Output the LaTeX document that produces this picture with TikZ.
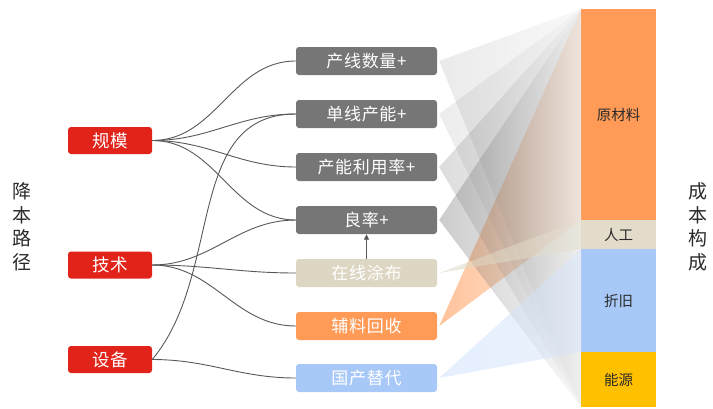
\documentclass[tikz,border=0pt]{standalone}
\usepackage{fontspec}
\setmainfont{Noto Sans CJK SC}
\newfontfamily\boxfont[LetterSpace=4]{Noto Sans CJK SC}
\usetikzlibrary{arrows.meta}
\definecolor{cRed}{HTML}{E2231A}
\definecolor{cGray}{HTML}{767676}
\definecolor{cBeige}{HTML}{DDD6C3}
\definecolor{cBeigeBar}{HTML}{E3DCCB}
\definecolor{cOrange}{HTML}{FF9B57}
\definecolor{cBlue}{HTML}{A8C8F8}
\definecolor{cYellow}{HTML}{FFC000}
\definecolor{cLine}{HTML}{585858}
\definecolor{cText}{HTML}{2A2A2A}
\tikzset{
  srcbox/.style={fill=cRed, text=white, rounded corners=3pt, minimum width=84pt, minimum height=27pt, inner sep=0pt, font=\boxfont\fontsize{17.5}{20}\selectfont},
  midbox/.style={text=white, rounded corners=3pt, minimum width=141pt, minimum height=28pt, inner sep=0pt, font=\boxfont\fontsize{17}{20}\selectfont},
  segment/.style={minimum width=75pt, inner sep=0pt, outer sep=0pt, text=cText, font=\fontsize{14.5}{17}\selectfont},
  sidelabel/.style={align=center, text=cText, inner sep=0pt, font=\fontsize{19}{23.5}\selectfont},
  conn/.style={draw=cLine, line width=0.9pt},
  grayw/.style={fill opacity=#1},
  colw/.style={fill opacity=#1}
}
\begin{document}
\begin{tikzpicture}[x=1pt,y=-1pt]
\useasboundingbox (0,0) rectangle (713,408);
% cost bar
\node[segment, fill=cOrange, minimum height=211pt] (raw) at (618.5,114.5) {原材料};
\node[segment, fill=cBeigeBar, minimum height=29pt] (lab) at (618.5,234.5) {人工};
\node[segment, fill=cBlue, minimum height=103pt] (dep) at (618.5,300.5) {折旧};
\node[segment, fill=cYellow, minimum height=55pt] (eng) at (618.5,379.5) {能源};
% middle boxes
\node[midbox, fill=cGray] (m1) at (366.5,61) {产线数量+};
\node[midbox, fill=cGray] (m2) at (366.5,114) {单线产能+};
\node[midbox, fill=cGray] (m3) at (366.5,167) {产能利用率+};
\node[midbox, fill=cGray] (m4) at (366.5,220) {良率+};
\node[midbox, fill=cBeige] (m5) at (366.5,273) {在线涂布};
\node[midbox, fill=cOrange] (m6) at (366.5,326) {辅料回收};
\node[midbox, fill=cBlue] (m7) at (366.5,378) {国产替代};
% wedges
\path[colw=0.6, left color=cOrange, right color=cOrange!35] ([xshift=2pt]m6.east) -- (raw.north west) -- (raw.south west) -- cycle;
\path[grayw=0.10, left color=black!80, right color=black!22] ([xshift=2pt]m1.east) -- (raw.north west) -- (eng.south west) -- cycle;
\path[grayw=0.09, left color=black!80, right color=black!22] ([xshift=2pt]m2.east) -- (raw.north west) -- (eng.south west) -- cycle;
\path[grayw=0.17, left color=black!80, right color=black!12] ([xshift=2pt]m3.east) -- (raw.north west) -- (eng.south west) -- cycle;
\path[grayw=0.25, left color=black!80, right color=black!8] ([xshift=2pt]m4.east) -- (raw.north west) -- (eng.south west) -- cycle;
\path[colw=0.55, left color=cBeige, right color=cBeige!80] ([xshift=2pt]m5.east) -- (lab.north west) -- (lab.south west) -- cycle;
\path[colw=0.5, left color=cBlue!60, right color=cBlue!45] ([xshift=2pt]m7.east) -- (dep.north west) -- (dep.south west) -- cycle;
% source boxes
\node[srcbox] (s1) at (110,140.5) {规模};
\node[srcbox] (s2) at (110,265) {技术};
\node[srcbox] (s3) at (110,359.5) {设备};
% connectors
\draw[conn] (s1.east) to[out=0,in=180] (m1.west);
\draw[conn] (s1.east) to[out=0,in=180] (m2.west);
\draw[conn] (s1.east) to[out=0,in=180] (m3.west);
\draw[conn] (s1.east) to[out=0,in=180] (m4.west);
\draw[conn] (s2.east) to[out=0,in=180] (m4.west);
\draw[conn] (s2.east) to[out=0,in=180] (m5.west);
\draw[conn] (s2.east) to[out=0,in=180] (m6.west);
\draw[conn] (s3.east) to[out=50,in=180] (m2.west);
\draw[conn] (s3.east) to[out=0,in=180] (m7.west);
\draw[cLine, line width=0.9pt, -{Triangle[length=5.5pt,width=5pt]}] (m5.north) -- (m4.south);
% side labels
\node[sidelabel] (left) at (22,227) {降\\本\\路\\径};
\node[sidelabel] (right) at (698,227) {成\\本\\构\\成};
\end{tikzpicture}
\end{document}
